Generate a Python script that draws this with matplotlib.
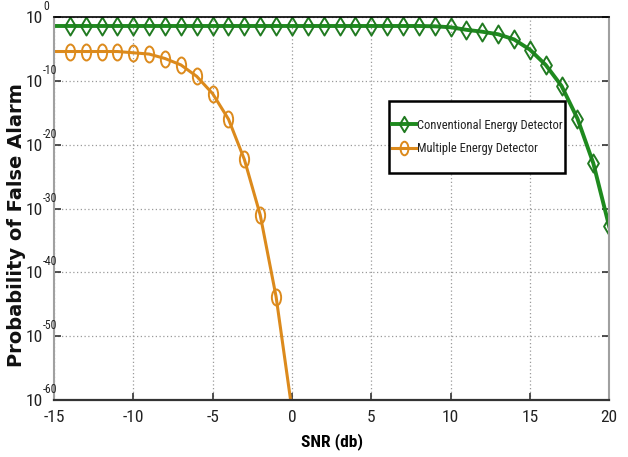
import numpy as np
import matplotlib
matplotlib.use("Agg")
import matplotlib.pyplot as plt
from matplotlib.path import Path
from matplotlib.patches import Rectangle
from matplotlib import font_manager, transforms

# ---- data (log10 of probability of false alarm) ----
snr_conv = [-15, -14, -13, -12, -11, -10, -9, -8, -7, -6, -5, -4, -3, -2, -1, 0,
            1, 2, 3, 4, 5, 6, 7, 8, 9, 10, 11, 12, 13, 14, 15, 16, 17, 18, 19, 20]
pfa_conv_log10 = [-1.4, -1.4, -1.4, -1.4, -1.4, -1.4, -1.4, -1.4, -1.4, -1.4,
                  -1.4, -1.4, -1.4, -1.4, -1.4, -1.4, -1.4, -1.4, -1.4, -1.4,
                  -1.4, -1.4, -1.4, -1.4, -1.45, -1.6, -2.0, -2.3, -2.7, -3.5,
                  -5.1, -7.5, -10.8, -15.9, -22.9, -32.8]
snr_mult = [-15, -14, -13, -12, -11, -10, -9, -8, -7, -6, -5, -4, -3, -2, -1, 0]
pfa_mult_log10 = [-5.4, -5.4, -5.4, -5.4, -5.4, -5.6, -5.8, -6.5, -7.5, -9.3,
                  -12.0, -16.0, -22.3, -31.0, -43.8, -61.5]
labels = ["Conventional Energy Detector", "Multiple Energy Detector"]
xticks = [-15, -10, -5, 0, 5, 10, 15, 20]
yticks_exp = [0, -10, -20, -30, -40, -50, -60]

# ---- pick a narrow sans font if one is installed ----
ttf = font_manager.fontManager.ttflist
names = {f.name for f in ttf}
fam = "Liberation Sans"
for cand in ["Liberation Sans Narrow", "Roboto Condensed"]:
    if cand in names:
        fam = cand
        break

plt.rcParams["font.family"] = [fam, "DejaVu Sans"]

green = "#1e8a1e"
orange = "#dc8a1c"

# vertically elongated ellipse and diamond markers
circ = Path.unit_circle()
ellipse = Path(circ.vertices * np.array([0.58, 1.0]), circ.codes)
diamond = Path([(0, 1), (0.6, 0), (0, -1), (-0.6, 0), (0, 1)],
               [Path.MOVETO, Path.LINETO, Path.LINETO, Path.LINETO, Path.CLOSEPOLY])

fig = plt.figure(figsize=(6.28, 4.57), dpi=100)
ax = fig.add_axes([0.086, 0.1247, 0.884, 0.838])

ax.plot(snr_conv, 10.0 ** np.array(pfa_conv_log10), color=green, lw=2.8,
        marker=diamond, markersize=13, markerfacecolor="none", markeredgecolor="#207a20",
        markeredgewidth=1.4, markevery=slice(1, None), label=labels[0])
ax.plot(snr_mult, 10.0 ** np.array(pfa_mult_log10), color=orange, lw=2.2,
        marker=ellipse, markersize=11.5, markerfacecolor="none", markeredgecolor=orange,
        markeredgewidth=1.4, markevery=slice(1, None), label=labels[1])

ax.set_yscale("log")
ax.set_xlim(-15, 20)
ax.set_ylim(1e-60, 1e0)
ax.set_xticks(xticks)
ax.set_xticklabels([str(t) for t in xticks])
ax.set_yticks([10.0 ** e for e in yticks_exp])
ax.set_yticklabels(["10" for e in yticks_exp])
ax.yaxis.set_minor_locator(matplotlib.ticker.NullLocator())

ax.tick_params(axis="both", which="major", direction="in", length=5, width=1.2,
               colors="#333333", labelsize=12.5, top=False, right=True)
ax.tick_params(axis="x", pad=7)
ax.tick_params(axis="y", pad=8)
for lab in ax.get_xticklabels() + ax.get_yticklabels():
    lab.set_color("#222222")

# exponents of the y tick labels
ytr = transforms.blended_transform_factory(ax.transAxes, ax.transData)
for e in yticks_exp:
    tr = transforms.offset_copy(ytr, fig=fig, x=-11, y=4, units="dots")
    ax.text(0, 10.0 ** e, "%d" % e, transform=tr, fontsize=8.5, color="#222222",
            ha="left", va="bottom", clip_on=False)

ax.grid(True, which="major", color="#9a9a9a", linestyle=(0, (1, 2)), linewidth=0.9)

ax.spines["left"].set_color("#a0a0a0")
ax.spines["left"].set_linewidth(1.5)
ax.spines["right"].set_color("#a0a0a0")
ax.spines["right"].set_linewidth(1.5)
ax.spines["bottom"].set_color("#333333")
ax.spines["bottom"].set_linewidth(1.6)
ax.spines["top"].set_color("black")
ax.spines["top"].set_linewidth(1.2)

ax.set_xlabel("SNR (db)", fontsize=12.5, fontweight="bold", labelpad=6)
ax.set_ylabel("Probability of False Alarm", fontsize=14, fontweight="bold",
              family="DejaVu Sans", color="#111111")
ax.yaxis.set_label_coords(-0.05, 0.457)

# legend with a white, square frame
frame = Rectangle((0.604, 0.593), 0.317, 0.188, transform=ax.transAxes,
                  facecolor="white", edgecolor="black", linewidth=1.8, zorder=5)
ax.add_patch(frame)
leg = ax.legend(loc="center", bbox_to_anchor=(0.7625, 0.687), fontsize=9,
                frameon=False, handlelength=1.9, handletextpad=0.05,
                labelspacing=0.85, borderpad=0.2, borderaxespad=0,
                markerscale=0.85)
leg.set_zorder(6)
for t in leg.get_texts():
    t.set_color("#222222")

fig.savefig("out.png", dpi=100)
